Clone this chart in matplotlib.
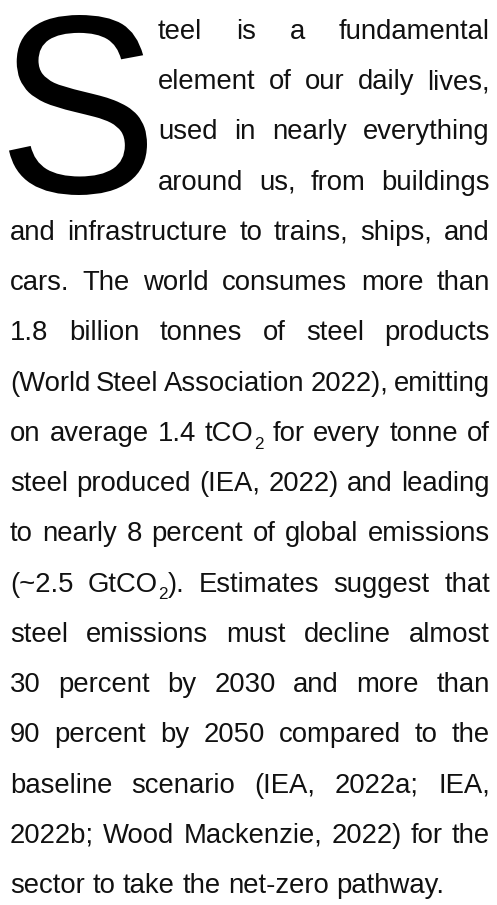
import re
import matplotlib
matplotlib.use("Agg")
import matplotlib.pyplot as plt
from matplotlib.font_manager import FontProperties
from matplotlib.textpath import TextPath
from matplotlib.patches import PathPatch
from matplotlib.transforms import Affine2D, IdentityTransform

W, H = 497, 905

# paragraph text, one entry per printed line; "_2" marks a subscript
drop_cap = "S"
lines = [
    "teel is a fundamental",
    "element of our daily lives,",
    "used in nearly everything",
    "around us, from buildings",
    "and infrastructure to trains, ships, and",
    "cars. The world consumes more than",
    "1.8 billion tonnes of steel products",
    "(World Steel Association 2022), emitting",
    "on average 1.4 tCO_2 for every tonne of",
    "steel produced (IEA, 2022) and leading",
    "to nearly 8 percent of global emissions",
    "(~2.5 GtCO_2). Estimates suggest that",
    "steel emissions must decline almost",
    "30 percent by 2030 and more than",
    "90 percent by 2050 compared to the",
    "baseline scenario (IEA, 2022a; IEA,",
    "2022b; Wood Mackenzie, 2022) for the",
    "sector to take the net-zero pathway.",
]
n_beside_cap = 4

family = "Liberation Sans"
color = "#111111"
left, left_cap, right = 10, 158, 490
first_base, last_base = 39, 893
cap_box = (9, 15, 147, 195)  # x0, y0, x1, y1 (pixels from top)

fig = plt.figure(figsize=(W / 100, H / 100), dpi=100)
fig.patch.set_facecolor("white")
renderer = fig.canvas.get_renderer()


def text_w(s, size):
    w, h, d = renderer.get_text_width_height_descent(
        s, FontProperties(family=family, size=size), ismath=False)
    return w


def space_w(size):
    return text_w("x x", size) - text_w("xx", size)


def segments(word):
    parts = re.split(r"_(\d)", word)
    return [(p, i % 2 == 1) for i, p in enumerate(parts) if p]


def word_w(word, size):
    tot = 0
    for s, sub in segments(word):
        tot += text_w(s, size * 0.62 if sub else size)
    return tot


def natural_w(line, size):
    ws = line.split()
    return sum(word_w(w, size) for w in ws) + space_w(size) * (len(ws) - 1)


# body size: last line width as in the reference, but no justified line
# may need spaces much tighter than normal
fs_last = 20 * 437 / natural_w(lines[-1], 20)
fs_full = min(20 * ((right - (left_cap if i < n_beside_cap else left)) + 6)
              / natural_w(l, 20) for i, l in enumerate(lines[:-1]))
fs = 0.5 * (fs_last + fs_full)
sub_fs = fs * 0.62
sub_drop = fs * 100 / 72 * 0.28

step = (last_base - first_base) / (len(lines) - 1)
for i, line in enumerate(lines):
    words = line.split()
    x0 = left_cap if i < n_beside_cap else left
    widths = [word_w(w, fs) for w in words]
    if i == len(lines) - 1:
        gap = space_w(fs)
    else:
        gap = (right - x0 - sum(widths)) / (len(words) - 1)
    yb = H - (first_base + i * step)
    x = x0
    for w, ww in zip(words, widths):
        xs = x
        for s, sub in segments(w):
            size = sub_fs if sub else fs
            fig.text(xs, yb - (sub_drop if sub else 0), s,
                     transform=IdentityTransform(), ha="left", va="baseline",
                     fontsize=size, family=family, color=color)
            xs += text_w(s, size)
        x += ww + gap

# drop cap drawn as a glyph outline scaled into its box
tp = TextPath((0, 0), drop_cap, size=100, prop=FontProperties(family=family))
ext = tp.get_extents()
bx0, by0, bx1, by1 = cap_box
tr = (Affine2D().translate(-ext.x0, -ext.y0)
      .scale((bx1 - bx0) / ext.width, (by1 - by0) / ext.height)
      .translate(bx0, H - by1))
fig.add_artist(PathPatch(tp, transform=tr, facecolor="black", edgecolor="none"))

fig.savefig("out.png", dpi=100, facecolor="white")
